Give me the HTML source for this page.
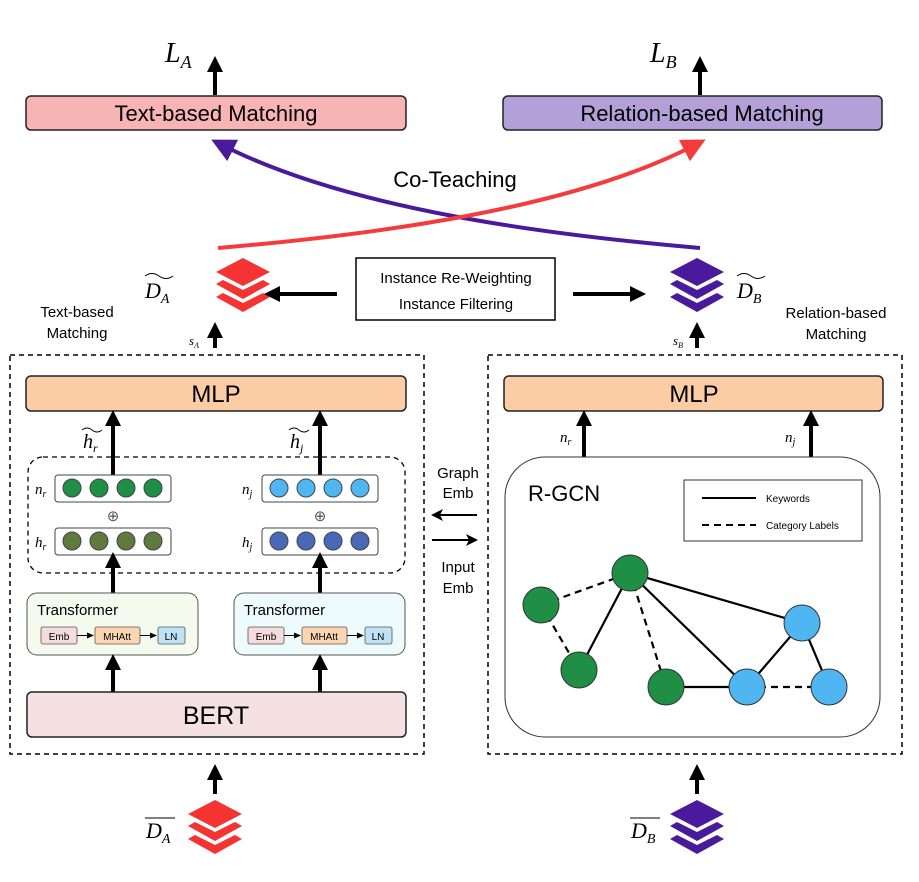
<!DOCTYPE html>
<html><head><meta charset="utf-8"><style>body{margin:0;background:#fff}svg{display:block}</style></head><body>
<svg width="919" height="882" viewBox="0 0 919 882" xmlns="http://www.w3.org/2000/svg" font-family="Liberation Sans, sans-serif">
<defs>
<marker id="ah" markerWidth="4" markerHeight="4" refX="2" refY="2" orient="auto" markerUnits="strokeWidth"><path d="M0,0 L4,2 L0,4 z" fill="#000"/></marker>
<marker id="ahs" markerWidth="8" markerHeight="8" refX="6" refY="4" orient="auto" markerUnits="userSpaceOnUse"><path d="M0,1 L7,4 L0,7 z" fill="#000"/></marker>
<marker id="ahm" markerWidth="14" markerHeight="12" refX="10" refY="6" orient="auto" markerUnits="userSpaceOnUse"><path d="M0,0 L12,6 L0,12 L3,6 z" fill="#000"/></marker>
<marker id="ahr" markerWidth="6" markerHeight="6" refX="3" refY="3" orient="auto" markerUnits="strokeWidth"><path d="M0,0 L6,3 L0,6 z" fill="#f43c3c"/></marker>
<marker id="ahp" markerWidth="6" markerHeight="6" refX="3" refY="3" orient="auto" markerUnits="strokeWidth"><path d="M0,0 L6,3 L0,6 z" fill="#4a1a9c"/></marker>
<g id="stk"><polygon points="0,0 27,14 0,28 -27,14"/><polygon points="-27,26 -20,22 0,32 20,22 27,26 0,41"/><polygon points="-27,39 -20,35 0,45 20,35 27,39 0,54"/></g>
</defs>
<!-- top -->
<text x="165" y="62" font-family="Liberation Serif, serif" font-style="italic" font-size="28">L<tspan font-size="18" dy="6">A</tspan></text>
<text x="650" y="62" font-family="Liberation Serif, serif" font-style="italic" font-size="28">L<tspan font-size="18" dy="6">B</tspan></text>
<line x1="215" y1="95" x2="215" y2="64" stroke="#000" stroke-width="4" marker-end="url(#ah)"/>
<line x1="700" y1="95" x2="700" y2="64" stroke="#000" stroke-width="4" marker-end="url(#ah)"/>
<rect x="26" y="96" width="380" height="34" rx="5" fill="#f8b4b4" stroke="#222" stroke-width="1.5"/>
<text x="216" y="121" font-size="22" text-anchor="middle">Text-based Matching</text>
<rect x="503" y="96" width="379" height="34" rx="5" fill="#b4a0d8" stroke="#222" stroke-width="1.5"/>
<text x="702" y="121" font-size="22" text-anchor="middle">Relation-based Matching</text>
<text x="455" y="187" font-size="22" text-anchor="middle">Co-Teaching</text>
<path d="M700,248 C550,235 350,210 222,145" fill="none" stroke="#4a1a9c" stroke-width="4" marker-end="url(#ahp)"/>
<path d="M218,248 C370,235 570,210 695,145" fill="none" stroke="#f43c3c" stroke-width="4" marker-end="url(#ahr)"/>
<use href="#stk" x="243" y="258" fill="#f43333"/>
<use href="#stk" x="697" y="258" fill="#4a1a9c"/>
<text x="145" y="298" font-family="Liberation Serif, serif" font-style="italic" font-size="22">D<tspan font-size="14" dy="5">A</tspan></text>
<path d="M145,276 q7,-5 14,0 t14,0" fill="none" stroke="#000" stroke-width="1"/>
<text x="737" y="298" font-family="Liberation Serif, serif" font-style="italic" font-size="22">D<tspan font-size="14" dy="5">B</tspan></text>
<path d="M737,276 q7,-5 14,0 t14,0" fill="none" stroke="#000" stroke-width="1"/>
<rect x="356" y="258" width="199" height="62" fill="#fff" stroke="#000" stroke-width="1.5"/>
<text x="456" y="283" font-size="15" text-anchor="middle">Instance Re-Weighting</text>
<text x="456" y="309" font-size="15" text-anchor="middle">Instance Filtering</text>
<line x1="337" y1="294" x2="272" y2="294" stroke="#000" stroke-width="4" marker-end="url(#ah)"/>
<line x1="573" y1="294" x2="638" y2="294" stroke="#000" stroke-width="4" marker-end="url(#ah)"/>
<text x="77" y="317" font-size="15" text-anchor="middle">Text-based</text>
<text x="77" y="338" font-size="15" text-anchor="middle">Matching</text>
<text x="836" y="318" font-size="15" text-anchor="middle">Relation-based</text>
<text x="836" y="339" font-size="15" text-anchor="middle">Matching</text>
<line x1="215" y1="348" x2="215" y2="330" stroke="#000" stroke-width="4" marker-end="url(#ah)"/>
<line x1="697" y1="348" x2="697" y2="330" stroke="#000" stroke-width="4" marker-end="url(#ah)"/>
<text x="189" y="345" font-family="Liberation Serif, serif" font-style="italic" font-size="13">s<tspan font-size="8" dy="3">A</tspan></text>
<text x="673" y="345" font-family="Liberation Serif, serif" font-style="italic" font-size="13">s<tspan font-size="8" dy="3">B</tspan></text>
<!-- dashed boxes -->
<rect x="10" y="355" width="414" height="399" fill="none" stroke="#000" stroke-width="1.5" stroke-dasharray="5,4"/>
<rect x="488" y="355" width="414" height="399" fill="none" stroke="#000" stroke-width="1.5" stroke-dasharray="5,4"/>
<!-- left -->
<rect x="26" y="376" width="380" height="35" rx="5" fill="#fccca4" stroke="#222" stroke-width="1.5"/>
<text x="216" y="402" font-size="24" text-anchor="middle">MLP</text>
<rect x="28" y="457" width="377" height="116" rx="15" fill="none" stroke="#000" stroke-width="1.3" stroke-dasharray="5,4"/>
<line x1="113" y1="476" x2="113" y2="418" stroke="#000" stroke-width="4" marker-end="url(#ah)"/>
<line x1="320" y1="476" x2="320" y2="418" stroke="#000" stroke-width="4" marker-end="url(#ah)"/>
<text x="83" y="448" font-family="Liberation Serif, serif" font-style="italic" font-size="20">h<tspan font-size="12" dy="4">r</tspan></text>
<path d="M82,430 q5,-4 10,0 t10,0" fill="none" stroke="#000"/>
<text x="290" y="448" font-family="Liberation Serif, serif" font-style="italic" font-size="20">h<tspan font-size="12" dy="4">j</tspan></text>
<path d="M289,430 q5,-4 10,0 t10,0" fill="none" stroke="#000"/>
<g stroke="#444" stroke-width="1">
<rect x="55" y="475" width="116" height="27" rx="3" fill="#fff"/>
<rect x="55" y="528" width="116" height="27" rx="3" fill="#fff"/>
<rect x="262" y="475" width="116" height="27" rx="3" fill="#fff"/>
<rect x="262" y="528" width="116" height="27" rx="3" fill="#fff"/>
<g fill="#1e8f45"><circle cx="72" cy="488" r="9"/><circle cx="99" cy="488" r="9"/><circle cx="126" cy="488" r="9"/><circle cx="153" cy="488" r="9"/></g>
<g fill="#5f7a3e"><circle cx="72" cy="541" r="9"/><circle cx="99" cy="541" r="9"/><circle cx="126" cy="541" r="9"/><circle cx="153" cy="541" r="9"/></g>
<g fill="#4fb6f2"><circle cx="279" cy="488" r="9"/><circle cx="306" cy="488" r="9"/><circle cx="333" cy="488" r="9"/><circle cx="360" cy="488" r="9"/></g>
<g fill="#4a68b8"><circle cx="279" cy="541" r="9"/><circle cx="306" cy="541" r="9"/><circle cx="333" cy="541" r="9"/><circle cx="360" cy="541" r="9"/></g>
</g>
<g font-family="Liberation Serif, serif" font-style="italic" font-size="15">
<text x="35" y="494">n<tspan font-size="10" dy="3">r</tspan></text>
<text x="35" y="547">h<tspan font-size="10" dy="3">r</tspan></text>
<text x="242" y="494">n<tspan font-size="10" dy="3">j</tspan></text>
<text x="242" y="547">h<tspan font-size="10" dy="3">j</tspan></text>
</g>
<text x="113" y="521" font-size="15" text-anchor="middle" fill="#555">⊕</text>
<text x="320" y="521" font-size="15" text-anchor="middle" fill="#555">⊕</text>
<line x1="113" y1="593" x2="113" y2="560" stroke="#000" stroke-width="4" marker-end="url(#ah)"/>
<line x1="320" y1="593" x2="320" y2="560" stroke="#000" stroke-width="4" marker-end="url(#ah)"/>
<g>
<rect x="27" y="593" width="171" height="62" rx="10" fill="#f4fbee" stroke="#555" stroke-width="1"/>
<text x="37" y="615" font-size="15">Transformer</text>
<rect x="41" y="627" width="36" height="17" rx="2" fill="#f5dcdc" stroke="#555" stroke-width="0.8"/>
<text x="59" y="640" font-size="10" text-anchor="middle">Emb</text>
<rect x="95" y="627" width="45" height="17" rx="2" fill="#fcd6b0" stroke="#555" stroke-width="0.8"/>
<text x="117" y="640" font-size="10" text-anchor="middle">MHAtt</text>
<rect x="158" y="627" width="27" height="17" rx="2" fill="#bfe2f5" stroke="#555" stroke-width="0.8"/>
<text x="171" y="640" font-size="10" text-anchor="middle">LN</text>
<line x1="77" y1="635.5" x2="93" y2="635.5" stroke="#000" stroke-width="1" marker-end="url(#ahs)"/>
<line x1="140" y1="635.5" x2="156" y2="635.5" stroke="#000" stroke-width="1" marker-end="url(#ahs)"/>
</g>
<g transform="translate(207,0)">
<rect x="27" y="593" width="171" height="62" rx="10" fill="#eefbfd" stroke="#555" stroke-width="1"/>
<text x="37" y="615" font-size="15">Transformer</text>
<rect x="41" y="627" width="36" height="17" rx="2" fill="#f5dcdc" stroke="#555" stroke-width="0.8"/>
<text x="59" y="640" font-size="10" text-anchor="middle">Emb</text>
<rect x="95" y="627" width="45" height="17" rx="2" fill="#fcd6b0" stroke="#555" stroke-width="0.8"/>
<text x="117" y="640" font-size="10" text-anchor="middle">MHAtt</text>
<rect x="158" y="627" width="27" height="17" rx="2" fill="#bfe2f5" stroke="#555" stroke-width="0.8"/>
<text x="171" y="640" font-size="10" text-anchor="middle">LN</text>
<line x1="77" y1="635.5" x2="93" y2="635.5" stroke="#000" stroke-width="1" marker-end="url(#ahs)"/>
<line x1="140" y1="635.5" x2="156" y2="635.5" stroke="#000" stroke-width="1" marker-end="url(#ahs)"/>
</g>
<line x1="113" y1="692" x2="113" y2="662" stroke="#000" stroke-width="4" marker-end="url(#ah)"/>
<line x1="320" y1="692" x2="320" y2="662" stroke="#000" stroke-width="4" marker-end="url(#ah)"/>
<rect x="27" y="692" width="379" height="45" rx="5" fill="#f5e0e2" stroke="#222" stroke-width="1.5"/>
<text x="216" y="724" font-size="25" text-anchor="middle">BERT</text>
<!-- middle -->
<text x="458" y="478" font-size="15" text-anchor="middle">Graph</text>
<text x="458" y="498" font-size="15" text-anchor="middle">Emb</text>
<line x1="477" y1="515" x2="433" y2="515" stroke="#000" stroke-width="2" marker-end="url(#ahm)"/>
<line x1="432" y1="540" x2="476" y2="540" stroke="#000" stroke-width="2" marker-end="url(#ahm)"/>
<text x="458" y="572" font-size="15" text-anchor="middle">Input</text>
<text x="458" y="593" font-size="15" text-anchor="middle">Emb</text>
<!-- right -->
<rect x="504" y="376" width="379" height="35" rx="5" fill="#fccca4" stroke="#222" stroke-width="1.5"/>
<text x="694" y="402" font-size="24" text-anchor="middle">MLP</text>
<line x1="584" y1="457" x2="584" y2="418" stroke="#000" stroke-width="4" marker-end="url(#ah)"/>
<line x1="811" y1="457" x2="811" y2="418" stroke="#000" stroke-width="4" marker-end="url(#ah)"/>
<g font-family="Liberation Serif, serif" font-style="italic" font-size="15">
<text x="560" y="442">n<tspan font-size="10" dy="3">r</tspan></text>
<text x="785" y="442">n<tspan font-size="10" dy="3">j</tspan></text>
</g>
<rect x="505" y="457" width="375" height="280" rx="40" fill="#fff" stroke="#333" stroke-width="1"/>
<text x="528" y="501" font-size="22">R-GCN</text>
<rect x="684" y="480" width="178" height="61" fill="#fff" stroke="#333" stroke-width="1"/>
<line x1="702" y1="498" x2="756" y2="498" stroke="#000" stroke-width="2"/>
<text x="766" y="502" font-size="10">Keywords</text>
<line x1="702" y1="525" x2="756" y2="525" stroke="#000" stroke-width="2" stroke-dasharray="7,5"/>
<text x="766" y="529" font-size="10">Category Labels</text>
<g stroke="#000" stroke-width="2.2">
<line x1="541" y1="605" x2="630" y2="573" stroke-dasharray="7,5"/>
<line x1="541" y1="605" x2="579" y2="670" stroke-dasharray="7,5"/>
<line x1="630" y1="573" x2="666" y2="687" stroke-dasharray="7,5"/>
<line x1="747" y1="687" x2="829" y2="687" stroke-dasharray="7,5"/>
<line x1="579" y1="670" x2="630" y2="573"/>
<line x1="630" y1="573" x2="747" y2="687"/>
<line x1="630" y1="573" x2="802" y2="623"/>
<line x1="666" y1="687" x2="747" y2="687"/>
<line x1="747" y1="687" x2="802" y2="623"/>
<line x1="802" y1="623" x2="829" y2="687"/>
</g>
<g stroke="#333" stroke-width="1">
<g fill="#1e8f45"><circle cx="630" cy="573" r="18"/><circle cx="541" cy="605" r="18"/><circle cx="579" cy="670" r="18"/><circle cx="666" cy="687" r="18"/></g>
<g fill="#4fb6f2"><circle cx="747" cy="687" r="18"/><circle cx="802" cy="623" r="18"/><circle cx="829" cy="687" r="18"/></g>
</g>
<!-- bottom -->
<line x1="215" y1="794" x2="215" y2="772" stroke="#000" stroke-width="4" marker-end="url(#ah)"/>
<line x1="697" y1="794" x2="697" y2="772" stroke="#000" stroke-width="4" marker-end="url(#ah)"/>
<use href="#stk" x="215" y="800" fill="#f43333"/>
<use href="#stk" x="697" y="800" fill="#4a1a9c"/>
<line x1="145" y1="818" x2="175" y2="818" stroke="#000" stroke-width="1"/>
<text x="146" y="838" font-family="Liberation Serif, serif" font-style="italic" font-size="22">D<tspan font-size="14" dy="5">A</tspan></text>
<line x1="630" y1="818" x2="660" y2="818" stroke="#000" stroke-width="1"/>
<text x="631" y="838" font-family="Liberation Serif, serif" font-style="italic" font-size="22">D<tspan font-size="14" dy="5">B</tspan></text>
</svg>
</body></html>
